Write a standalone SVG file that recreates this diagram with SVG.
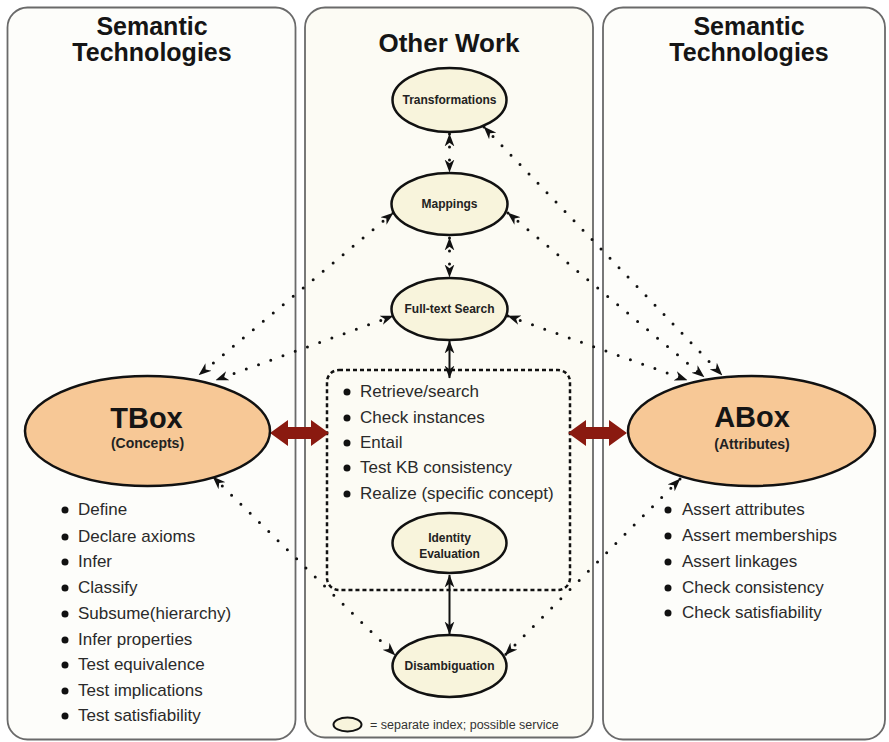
<svg xmlns="http://www.w3.org/2000/svg" width="889" height="742" viewBox="0 0 889 742">
  <defs>
    <marker id="tip" viewBox="0 0 12 10" markerWidth="13" markerHeight="11" refX="11.5" refY="5" orient="auto-start-reverse" markerUnits="userSpaceOnUse">
      <path d="M0,0.5 L12,5 L0,9.5 L3.5,5 Z" fill="#111"/>
    </marker>
  </defs>
  <style>
    .panel { stroke: #6a6a6a; stroke-width: 1.8; }
    .title { font-family: "Liberation Sans", Arial, sans-serif; font-weight: bold; font-size: 25px; fill: #151515; text-anchor: middle; }
    .node { fill: #f8f4dc; stroke: #111; stroke-width: 2.5; }
    .nlabel { font-family: "Liberation Sans", Arial, sans-serif; font-weight: bold; font-size: 12px; fill: #222; text-anchor: middle; }
    .box { fill: #f7c896; stroke: #111; stroke-width: 2.5; }
    .bigl { font-family: "Liberation Sans", Arial, sans-serif; font-weight: bold; font-size: 29px; fill: #151515; text-anchor: middle; }
    .subl { font-family: "Liberation Sans", Arial, sans-serif; font-weight: bold; font-size: 14px; fill: #222; text-anchor: middle; }
    .item { font-family: "Liberation Sans", Arial, sans-serif; font-size: 17px; fill: #2a2a2a; }
    .dot { fill: #111; }
    .dotted { fill: none; stroke: #111; stroke-width: 3; stroke-linecap: round; stroke-dasharray: 0 13; marker-start: url(#tip); marker-end: url(#tip); }
    .solid { fill: none; stroke: #111; stroke-width: 2; marker-start: url(#tip); marker-end: url(#tip); }
    .big { fill: #8a1a10; }
  </style>

  <rect width="889" height="742" fill="#ffffff"/>

  <!-- column panels -->
  <g id="panel-left">
    <rect class="panel" x="7.5" y="7.5" width="288" height="732" rx="20" fill="#fdfdfa"/>
    <text class="title" x="152" y="35">Semantic</text>
    <text class="title" x="152" y="61">Technologies</text>
  </g>
  <g id="panel-middle">
    <rect class="panel" x="305" y="7.5" width="288" height="730" rx="20" fill="#fcfbf4"/>
    <text class="title" x="449" y="52" style="font-size:26px">Other Work</text>
  </g>
  <g id="panel-right">
    <rect class="panel" x="603" y="7.5" width="282" height="732" rx="20" fill="#fdfdfa"/>
    <text class="title" x="749" y="35">Semantic</text>
    <text class="title" x="749" y="61">Technologies</text>
  </g>

  <!-- reasoning services block -->
  <g id="services">
    <rect x="327" y="370" width="243" height="220" rx="12" fill="none" stroke="#111" stroke-width="2.5" stroke-dasharray="4 3"/>
    <circle class="dot" cx="347" cy="392" r="3.5"/>
    <text class="item" x="360" y="397">Retrieve/search</text>
    <circle class="dot" cx="347" cy="418" r="3.5"/>
    <text class="item" x="360" y="423">Check instances</text>
    <circle class="dot" cx="347" cy="443" r="3.5"/>
    <text class="item" x="360" y="448">Entail</text>
    <circle class="dot" cx="347" cy="468" r="3.5"/>
    <text class="item" x="360" y="473">Test KB consistency</text>
    <circle class="dot" cx="347" cy="494" r="3.5"/>
    <text class="item" x="360" y="499">Realize (specific concept)</text>
  </g>

  <!-- connectors -->
  <g id="connectors">
    <line class="dotted" x1="449.5" y1="134" x2="449.5" y2="172"/>
    <line class="dotted" x1="449.5" y1="238" x2="449.5" y2="277"/>
    <line class="solid" x1="449.5" y1="341" x2="449.5" y2="378"/>
    <line class="solid" x1="449.5" y1="575" x2="449.5" y2="634"/>
    <line class="dotted" x1="484" y1="127" x2="722" y2="375"/>
    <line class="dotted" x1="508" y1="213" x2="704" y2="377"/>
    <line class="dotted" x1="508" y1="316" x2="687" y2="380"/>
    <line class="dotted" x1="393" y1="213" x2="199" y2="375"/>
    <line class="dotted" x1="393" y1="316" x2="216" y2="380"/>
    <line class="dotted" x1="213" y1="477" x2="395" y2="655"/>
    <line class="dotted" x1="680" y1="479" x2="505" y2="655"/>
    <path class="big" d="M270,433 L288,420 L288,427 L311,427 L311,420 L329,433 L311,446 L311,439 L288,439 L288,446 Z"/>
    <path class="big" d="M568,433 L586,420 L586,427 L609,427 L609,420 L627,433 L609,446 L609,439 L586,439 L586,446 Z"/>
  </g>

  <!-- other-work services -->
  <g id="transformations">
    <ellipse class="node" cx="449.5" cy="100" rx="57" ry="32"/>
    <text class="nlabel" x="449.5" y="104">Transformations</text>
  </g>
  <g id="mappings">
    <ellipse class="node" cx="449.5" cy="204" rx="58" ry="31"/>
    <text class="nlabel" x="449.5" y="208">Mappings</text>
  </g>
  <g id="fulltext">
    <ellipse class="node" cx="449.5" cy="309" rx="58" ry="31"/>
    <text class="nlabel" x="449.5" y="313">Full-text Search</text>
  </g>
  <g id="identity">
    <ellipse class="node" cx="449.5" cy="543" rx="57" ry="30"/>
    <text class="nlabel" x="449.5" y="542">Identity</text>
    <text class="nlabel" x="449.5" y="558">Evaluation</text>
  </g>
  <g id="disambiguation">
    <ellipse class="node" cx="449.5" cy="666" rx="57" ry="31"/>
    <text class="nlabel" x="449.5" y="670">Disambiguation</text>
  </g>

  <!-- TBox -->
  <g id="tbox">
    <ellipse class="box" cx="147.5" cy="431" rx="122.5" ry="55"/>
    <text class="bigl" x="146.5" y="428">TBox</text>
    <text class="subl" x="147.5" y="448">(Concepts)</text>
  </g>
  <g id="tbox-list">
    <circle class="dot" cx="65" cy="510" r="3.5"/>
    <text class="item" x="78" y="515">Define</text>
    <circle class="dot" cx="65" cy="537" r="3.5"/>
    <text class="item" x="78" y="542">Declare axioms</text>
    <circle class="dot" cx="65" cy="562" r="3.5"/>
    <text class="item" x="78" y="567">Infer</text>
    <circle class="dot" cx="65" cy="588" r="3.5"/>
    <text class="item" x="78" y="593">Classify</text>
    <circle class="dot" cx="65" cy="614" r="3.5"/>
    <text class="item" x="78" y="619">Subsume(hierarchy)</text>
    <circle class="dot" cx="65" cy="640" r="3.5"/>
    <text class="item" x="78" y="645">Infer properties</text>
    <circle class="dot" cx="65" cy="665" r="3.5"/>
    <text class="item" x="78" y="670">Test equivalence</text>
    <circle class="dot" cx="65" cy="691" r="3.5"/>
    <text class="item" x="78" y="696">Test implications</text>
    <circle class="dot" cx="65" cy="716" r="3.5"/>
    <text class="item" x="78" y="721">Test satisfiability</text>
  </g>

  <!-- ABox -->
  <g id="abox">
    <ellipse class="box" cx="751.5" cy="431" rx="123.5" ry="55"/>
    <text class="bigl" x="752" y="427">ABox</text>
    <text class="subl" x="752" y="449">(Attributes)</text>
  </g>
  <g id="abox-list">
    <circle class="dot" cx="668" cy="510" r="3.5"/>
    <text class="item" x="682" y="515">Assert attributes</text>
    <circle class="dot" cx="668" cy="536" r="3.5"/>
    <text class="item" x="682" y="541">Assert memberships</text>
    <circle class="dot" cx="668" cy="562" r="3.5"/>
    <text class="item" x="682" y="567">Assert linkages</text>
    <circle class="dot" cx="668" cy="588" r="3.5"/>
    <text class="item" x="682" y="593">Check consistency</text>
    <circle class="dot" cx="668" cy="613" r="3.5"/>
    <text class="item" x="682" y="618">Check satisfiability</text>
  </g>

  <!-- key -->
  <g id="legend">
    <ellipse class="node" cx="347.5" cy="724.5" rx="14" ry="7" style="stroke-width:2"/>
    <text x="370" y="729" font-family="Liberation Sans, Arial, sans-serif" font-size="12.5" fill="#333">= separate index; possible service</text>
  </g>
</svg>
